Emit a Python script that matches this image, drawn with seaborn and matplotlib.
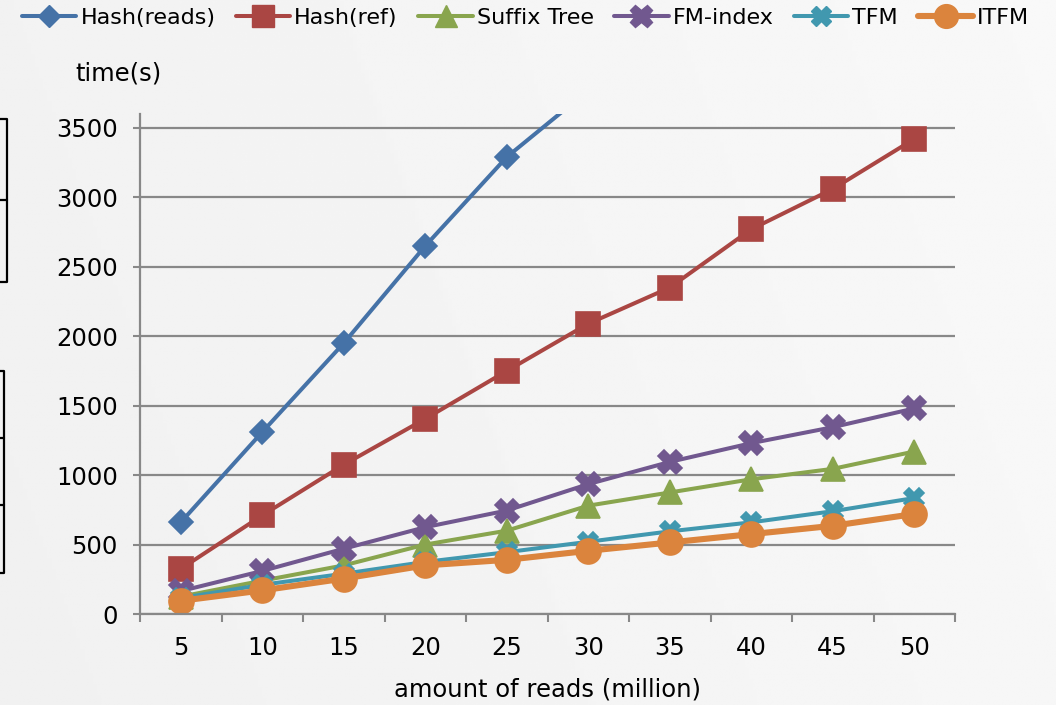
import numpy as np
import matplotlib
matplotlib.use("Agg")
import matplotlib.pyplot as plt
import seaborn as sns
from matplotlib.lines import Line2D

sns.set_style("white")
plt.rcParams["font.family"] = ["DejaVu Sans"]

# ---- data -------------------------------------------------------------
reads_million = [5, 10, 15, 20, 25, 30, 35, 40, 45, 50]
hash_reads = [660, 1310, 1950, 2650, 3290, 3770, np.nan, np.nan, np.nan, np.nan]
hash_ref = [325, 710, 1075, 1405, 1750, 2090, 2350, 2770, 3060, 3420]
suffix_tree = [125, 240, 350, 500, 600, 780, 875, 970, 1045, 1170]
fm_index = [165, 310, 470, 625, 745, 935, 1095, 1230, 1345, 1480]
tfm = [115, 210, 290, 375, 445, 520, 595, 660, 740, 835]
itfm = [95, 170, 255, 350, 390, 455, 515, 575, 635, 720]

series_names = ["Hash(reads)", "Hash(ref)", "Suffix Tree", "FM-index", "TFM", "ITFM"]
series_values = [hash_reads, hash_ref, suffix_tree, fm_index, tfm, itfm]
y_ticks = [0, 500, 1000, 1500, 2000, 2500, 3000, 3500]

# ---- styling ----------------------------------------------------------
colors = ["#4572A7", "#AA4643", "#89A54E", "#71588F", "#4198AF", "#DB843D"]
markers = ["D", "s", "^", "X", "X", "o"]
msizes = [12, 17, 17, 17, 15, 18]
lwidths = [2.9, 2.9, 2.9, 2.9, 2.9, 4.4]
grid_c = "#888888"
text_c = "#000000"

fig = plt.figure(figsize=(10.56, 7.05), dpi=100)

# soft light-grey backdrop
bg = fig.add_axes([0, 0, 1, 1], zorder=-10)
gx = np.linspace(0, 1, 256)
gy = np.linspace(0, 1, 256)
GX, GY = np.meshgrid(gx, gy)
shade = 0.943 + 0.025 * GX + 0.006 * (1 - GY)
bg.imshow(shade, cmap="gray", vmin=0, vmax=1, aspect="auto",
          extent=[0, 1, 0, 1], origin="upper")
bg.set_axis_off()

W, H = 1056, 705
ax = fig.add_axes([140 / W, 1 - 614 / H, (955 - 140) / W, (614 - 114) / H])
ax.set_facecolor("none")

for name, vals, c, m, ms, lw in zip(series_names, series_values, colors,
                                    markers, msizes, lwidths):
    sns.lineplot(x=reads_million, y=vals, ax=ax, color=c, marker=m,
                 markersize=ms, markeredgecolor=c, markeredgewidth=1.2,
                 linewidth=lw, label=name, legend=False, clip_on=True)

ax.set_xlim(2.5, 52.5)
ax.set_ylim(0, 3600)

# category labels centred, tick marks on the category boundaries
ax.set_xticks(reads_million)
ax.set_xticklabels([str(v) for v in reads_million])
ax.set_xticks(np.arange(2.5, 53, 5), minor=True)
ax.tick_params(axis="x", which="major", length=0, pad=15.5, labelsize=17.5,
               labelcolor=text_c)
ax.tick_params(axis="x", which="minor", length=6, width=1.5, color=grid_c,
               direction="out", bottom=True)

ax.set_yticks(y_ticks)
ax.set_yticklabels([str(v) for v in y_ticks])
ax.tick_params(axis="y", which="major", length=5, width=1.5, color=grid_c,
               direction="out", left=True, pad=11, labelsize=17.5,
               labelcolor=text_c)
ax.yaxis.grid(True, color=grid_c, linewidth=1.6)
ax.xaxis.grid(False)
ax.set_axisbelow(True)

for side in ["top", "right"]:
    ax.spines[side].set_visible(False)
for side in ["left", "bottom"]:
    ax.spines[side].set_color(grid_c)
    ax.spines[side].set_linewidth(1.6)

ax.set_xlabel("amount of reads (million)", fontsize=17.5, color=text_c,
              labelpad=13)
ax.set_ylabel("")
fig.text(75 / W, 1 - 73 / H, "time(s)", fontsize=17.5, color=text_c,
         va="center", ha="left")

handles = [Line2D([], [], color=c, marker=m, markersize=ms * 0.95,
                  markeredgecolor=c, linewidth=lw)
           for c, m, ms, lw in zip(colors, markers, msizes, lwidths)]
fig.legend(handles, series_names, loc="center left",
           bbox_to_anchor=(22 / W, 1 - 18 / H), ncol=6, frameon=False,
           fontsize=16, labelcolor=text_c, handlelength=2.45,
           handletextpad=0.18, columnspacing=0.92, borderpad=0,
           borderaxespad=0, numpoints=1)

# edges of neighbouring boxes at the left margin
def edge_box(x1, y_top, y_bot, dividers):
    fig.add_artist(Line2D([0, x1 / W, x1 / W, 0],
                          [1 - y_top / H, 1 - y_top / H, 1 - y_bot / H, 1 - y_bot / H],
                          color="black", linewidth=1.6))
    for yd in dividers:
        fig.add_artist(Line2D([0, x1 / W], [1 - yd / H, 1 - yd / H],
                              color="black", linewidth=1.6))

edge_box(7, 119, 282, [200])
edge_box(4, 371, 573, [438, 505])

fig.savefig("out.png", dpi=100)
